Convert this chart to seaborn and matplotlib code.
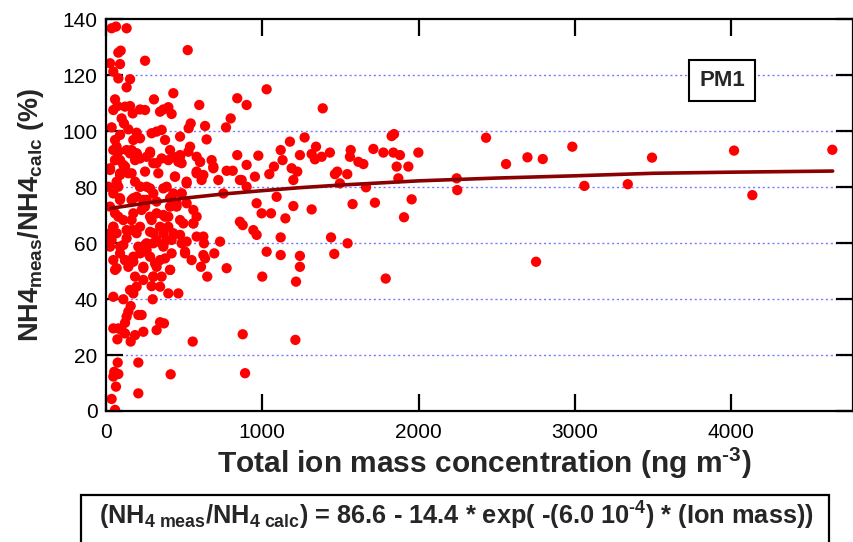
import numpy as np
import pandas as pd
import seaborn as sns
import matplotlib.pyplot as plt
from matplotlib.patches import Rectangle

# total ion mass (ng m-3) and NH4 meas/calc ratio (%)
ion_mass = [
    36, 64, 132, 523, 79, 94, 250, 26, 90, 47, 79, 154, 132, 431, 307, 58, 47, 73, 122, 154,
    171, 250, 218, 367, 399, 420, 346, 597, 36, 100, 115, 143, 840, 900, 1028, 1387, 798, 768, 542, 529,
    634, 644, 1843, 1828, 1271, 1177,
    58, 68, 90, 79, 26, 58, 90, 196, 218, 175, 164, 196, 132, 154, 122, 143, 164, 186, 260, 282,
    303, 324, 292, 324, 356, 378, 410, 431, 399, 442, 474, 474, 484, 516, 538, 580, 602, 580, 623, 612,
    676, 687, 719, 772, 811, 840, 868, 900, 953, 975, 1045, 1075, 1118, 1130, 1199, 1224, 1241, 1188, 1316, 1337,
    1344, 1380, 1433, 1465, 1480, 1497, 1544, 1566, 1561, 1615, 1647, 1711, 1775, 1839, 1881, 1860, 1871, 1935, 1999,
    15, 47, 68, 90, 26, 58, 90, 47, 68, 26, 111, 132, 164, 175, 196, 239, 218, 260, 228, 250,
    303, 324, 346, 378, 367, 399, 410, 431, 388, 431, 452, 484, 495, 516, 559, 580, 559, 751, 900, 857,
    964, 996, 1056, 1092, 1148, 1199, 1316, 1578, 1664, 1721, 1907, 1956, 218, 292, 303, 324, 260, 196, 164,
    26, 47, 68, 36, 90, 122, 143, 90, 175, 207, 218, 260, 239, 282, 303, 324, 346, 367, 388, 420,
    410, 378, 356, 303, 484, 506, 548, 580, 623, 627, 634, 608, 648, 693, 730, 772, 857, 875, 943, 964,
    1000, 1028, 1118, 1118, 1216, 1241, 1241, 1440, 1461, 1546, 1790, 239, 292, 346, 399, 463, 47, 111, 154, 175,
    196, 299,
    158, 143, 132, 122, 100, 79, 47, 73, 122, 158, 186, 207, 228, 239, 324, 346, 371, 555, 875, 1212,
    75, 53, 79, 47, 64, 36, 58, 207, 207, 414, 890,
    2244, 2248, 2432, 2560, 2697, 2795, 2752, 2984, 3061, 3339, 3494, 4019, 4136, 4648,
    47, 196, 282, 527, 58, 111, 218, 356, 474, 463, 602, 26, 90, 186, 250, 335, 441, 516, 580, 687,
    79, 218, 282, 367, 484, 90, 175, 260, 324, 410, 452, 79, 164, 282, 367, 474, 559, 47, 175, 282,
    399, 474, 132, 250, 324, 420, 516, 111, 239, 367, 506, 623, 122, 175, 239, 314, 410, 58, 186, 303,
]
nh4_ratio = [
    136.7, 137.3, 136.7, 128.9, 128.0, 128.7, 125.1, 124.2, 123.9, 121.2, 118.8, 118.5, 115.6, 113.5, 111.3, 111.3, 107.5, 108.9, 108.7, 108.9,
    106.3, 107.5, 107.7, 107.7, 108.5, 106.1, 106.9, 109.3, 101.3, 104.5, 102.7, 100.6, 111.7, 109.3, 114.9, 108.1, 104.5, 101.3, 102.7, 101.0,
    101.8, 97.0, 98.9, 98.2, 97.7, 96.2,
    96.8, 94.4, 98.6, 92.6, 86.7, 89.6, 89.6, 99.4, 97.4, 96.8, 93.2, 92.0, 93.2, 92.0, 87.3, 84.9, 84.9, 89.6, 90.8, 92.0,
    88.5, 88.5, 99.2, 99.8, 100.4, 96.8, 93.2, 90.8, 89.6, 83.7, 90.8, 98.0, 88.5, 81.3, 94.4, 90.8, 89.0, 84.9, 84.3, 82.5,
    89.6, 87.3, 82.5, 85.8, 85.8, 91.4, 82.5, 87.9, 83.7, 91.2, 84.6, 87.3, 93.2, 89.6, 82.5, 85.5, 91.4, 86.7, 91.8, 89.9,
    94.4, 90.8, 92.3, 84.6, 85.5, 81.3, 84.6, 93.2, 90.8, 89.0, 88.2, 93.6, 92.3, 92.3, 91.4, 87.3, 83.1, 87.3, 92.3,
    80.1, 77.7, 81.9, 84.9, 73.0, 70.6, 75.4, 65.8, 63.5, 63.5, 68.2, 64.6, 75.4, 70.6, 76.5, 75.4, 80.1, 80.1, 71.8, 73.0,
    77.7, 70.6, 65.8, 69.4, 63.5, 69.4, 73.0, 63.5, 80.1, 77.7, 74.2, 77.7, 67.0, 74.2, 71.8, 69.4, 67.0, 77.7, 80.1, 82.5,
    74.2, 70.6, 70.6, 76.5, 68.8, 73.2, 72.0, 73.9, 79.9, 74.4, 69.2, 75.6, 65.8, 68.2, 63.5, 61.1, 59.9, 63.5, 64.6,
    58.7, 53.9, 51.0, 61.1, 58.7, 53.9, 51.5, 56.3, 55.1, 58.7, 56.3, 57.5, 51.5, 55.1, 59.9, 51.5, 53.9, 58.7, 61.1, 56.3,
    50.4, 54.5, 48.0, 48.0, 59.9, 56.3, 53.9, 62.3, 62.3, 59.9, 54.5, 51.5, 48.0, 56.3, 60.5, 51.0, 67.6, 66.4, 64.6, 62.9,
    48.0, 56.9, 62.0, 55.7, 46.2, 51.5, 55.4, 62.0, 56.1, 59.9, 47.3, 46.8, 44.6, 44.4, 42.0, 42.0, 40.8, 39.9, 43.2, 42.0,
    44.4, 39.9,
    37.5, 35.5, 33.7, 31.5, 28.9, 29.5, 29.5, 25.6, 27.7, 24.8, 27.1, 34.3, 34.3, 28.3, 28.9, 31.7, 31.3, 24.8, 27.4, 25.4,
    17.3, 14.0, 13.2, 12.3, 8.7, 4.3, 0.4, 17.3, 6.3, 13.1, 13.5,
    83.1, 78.9, 97.6, 88.2, 90.6, 90.0, 53.3, 94.4, 80.4, 81.0, 90.5, 93.0, 77.1, 93.3,
    93.2, 92.0, 92.6, 92.6, 89.6, 87.9, 90.2, 90.2, 91.4, 89.0, 89.0, 86.1, 84.3, 81.9, 85.5, 84.9, 83.7, 81.9, 85.5, 86.7,
    80.1, 80.1, 79.5, 79.5, 77.7, 76.0, 76.0, 75.4, 74.8, 76.0, 73.0, 69.4, 68.2, 69.4, 70.0, 68.2, 67.0, 65.8, 64.6, 64.0,
    65.8, 62.9, 61.7, 59.3, 60.5, 61.1, 60.5, 59.3, 56.9, 59.3, 56.9, 55.7, 53.9, 53.3, 51.0, 52.7, 50.4, 50.4, 48.0, 48.0,
]

# fitted curve
fit_mass = [30, 250, 500, 750, 1000, 1250, 1500, 2000, 2500, 3000, 3500, 4000, 4650]
fit_ratio = [72.4, 74.2, 76.0, 77.5, 78.7, 79.8, 80.7, 82.2, 83.2, 84.0, 84.9, 85.3, 85.7]

df = pd.DataFrame({'mass': ion_mass, 'ratio': nh4_ratio})
fit = pd.DataFrame({'mass': fit_mass, 'ratio': fit_ratio})

sns.set_style('ticks')
plt.rcParams['font.family'] = ['Liberation Sans', 'DejaVu Sans']
plt.rcParams['mathtext.fontset'] = 'custom'
plt.rcParams['mathtext.rm'] = 'Liberation Sans:bold'
plt.rcParams['mathtext.bf'] = 'Liberation Sans:bold'
plt.rcParams['mathtext.it'] = 'Liberation Sans:bold'
plt.rcParams['mathtext.default'] = 'rm'

fig = plt.figure(figsize=(8.54, 5.42), dpi=100)
ax = fig.add_axes([0.1241, 0.2417, 0.8747, 0.7232])

for yv in [20, 40, 60, 80, 100, 120]:
    ax.axhline(yv, color='#7a7aff', lw=1, ls=(0, (1.5, 2)), zorder=0)

sns.scatterplot(data=df, x='mass', y='ratio', color='#ff0000', s=55,
                edgecolor='none', linewidth=0, ax=ax, zorder=2)
sns.lineplot(data=fit, x='mass', y='ratio', color='#8b0000', lw=2.6, ax=ax, zorder=3)

ax.set_xlim(0, 4780)
ax.set_ylim(0, 140)
ax.set_xticks([0, 1000, 2000, 3000, 4000])
ax.set_yticks([0, 20, 40, 60, 80, 100, 120, 140])
ax.tick_params(direction='in', length=12, width=1.6, labelsize=15,
               top=True, right=True, color='black', labelcolor='black')
ax.tick_params(axis='y', pad=6)
ax.tick_params(axis='x', pad=9)
for sp in ax.spines.values():
    sp.set_linewidth(1.6)
    sp.set_color('black')

ax.set_xlabel(r'Total ion mass concentration (ng m$^{\text{-3}}$)', fontsize=21.5, fontweight='bold')
ax.set_ylabel(r'NH4$_{\text{meas}}$/NH4$_{\text{calc}}$ (%)', fontsize=19.5, fontweight='bold')
ax.xaxis.set_label_coords(0.5067, -0.088)
ax.yaxis.set_label_coords(-0.08, 0.5)

ax.text(3942, 118.2, 'PM1', fontsize=16, fontweight='bold', ha='center', va='center',
        bbox=dict(boxstyle='square,pad=0.45', fc='white', ec='black', lw=1.5), zorder=4)

fig.patches.append(Rectangle((0.0948, -0.05), 0.876, 0.1367, transform=fig.transFigure,
                             fill=False, ec='black', lw=1.6))
fig.text(0.534, 0.0314,
         r'(NH$_{\text{4 meas}}$/NH$_{\text{4 calc}}$) = 86.6 - 14.4 * exp( -(6.0 10$^{\text{-4}}$) * (Ion mass))',
         fontsize=18.3, fontweight='bold', ha='center', va='baseline')

fig.savefig('out.png', dpi=100)
